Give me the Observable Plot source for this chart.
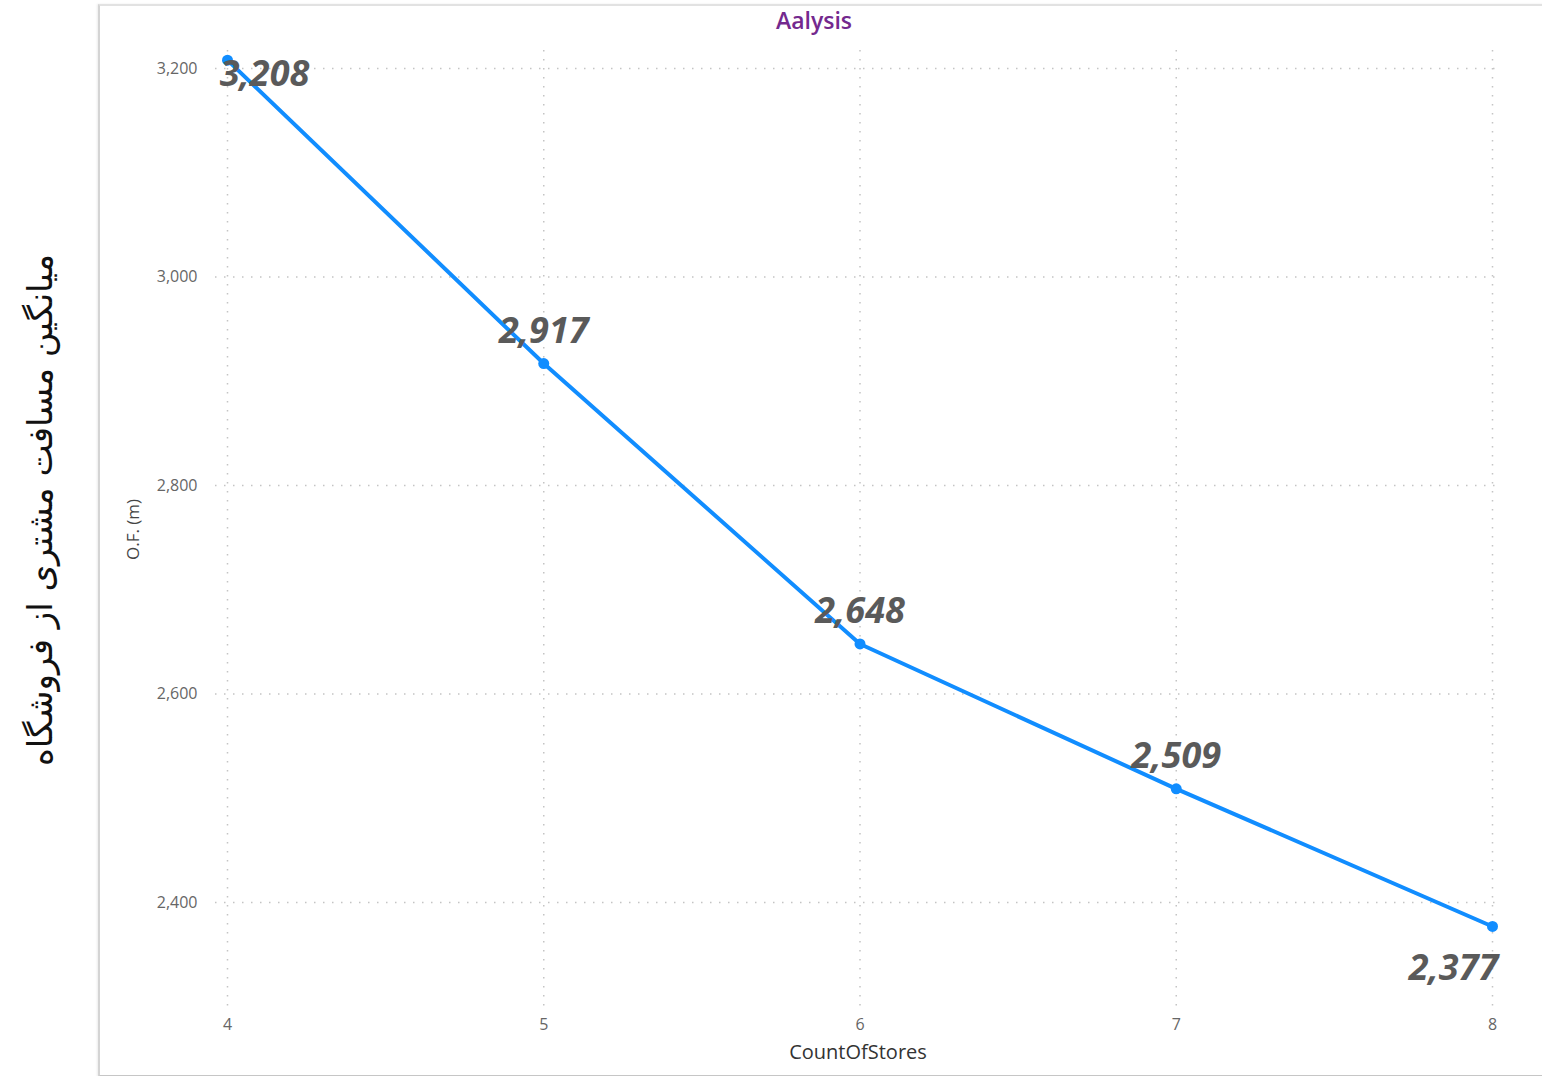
<!DOCTYPE html>
<html>
<head>
<meta charset="utf-8">
<script src="https://cdn.jsdelivr.net/npm/d3@7"></script>
<script src="https://cdn.jsdelivr.net/npm/@observablehq/plot@0.6"></script>
<style>
  html, body { margin: 0; padding: 0; background: #fff; }
  #wrap { position: relative; width: 1542px; height: 1076px; overflow: hidden; }
  #panel { position: absolute; left: 98px; top: 4px; width: 1460px; height: 1069px;
           border-left: 2px solid #d4d4d4; border-top: 2px solid #e2e2e2; border-bottom: 2px solid #c6c6c6;
           box-shadow: -1px 0 2px rgba(0,0,0,0.08); pointer-events: none; z-index: 2; }
  #persian { position: absolute; left: 40px; top: 510px; transform: translate(-50%, -50%) rotate(-90deg);
             white-space: nowrap; font-family: "DejaVu Sans", sans-serif; font-size: 34px; color: #111; direction: rtl; }
  #chart { position: absolute; left: 0; top: 0; }
</style>
</head>
<body>
<div id="wrap">
  <div id="chart"></div>
  <div id="panel"></div>
  <div id="persian">میانگین مسافت مشتری از فروشگاه</div>
</div>
<script>
const counts = [4, 5, 6, 7, 8];
const distances = [3208, 2917, 2648, 2509, 2377];
const xTicks = [4, 5, 6, 7, 8];
const yTicks = [2400, 2600, 2800, 3000, 3200];
const titleText = "Aalysis";
const xLabel = "CountOfStores";
const yLabel = "O.F. (m)";

const data = counts.map((c, i) => ({count: c, dist: distances[i]}));
const fmt = d3.format(",");
const n = data.length;

const labelStyle = {x: "count", y: "dist", text: d => fmt(d.dist), fontSize: 36, fontWeight: 700,
  fontStyle: "italic", fill: "#5a5a5a", fontFamily: "Open Sans"};

const chart = Plot.plot({
  width: 1542,
  height: 1076,
  marginLeft: 215,
  marginRight: 42,
  marginTop: 50,
  marginBottom: 68,
  style: {fontFamily: "Open Sans", background: "transparent"},
  x: {domain: [4, 8], range: [227, 1492]},
  y: {domain: [2400, 3200], range: [902, 68]},
  marks: [
    Plot.gridY(yTicks, {stroke: "#c4c4c4", strokeOpacity: 1, strokeWidth: 1.5, strokeDasharray: "1.5,7.5"}),
    Plot.gridX(xTicks, {stroke: "#c4c4c4", strokeOpacity: 1, strokeWidth: 1.5, strokeDasharray: "1.5,7.5"}),
    Plot.axisY(yTicks, {tickSize: 0, tickPadding: 18, tickFormat: fmt, fontSize: 16, fill: "#666", label: null}),
    Plot.axisX(xTicks, {tickSize: 0, tickPadding: 10, tickFormat: d3.format("d"), fontSize: 16, fill: "#666", label: null}),
    Plot.line(data, {x: "count", y: "dist", stroke: "#118DFF", strokeWidth: 4}),
    Plot.dot(data, {x: "count", y: "dist", r: 5.5, fill: "#118DFF"}),
    Plot.text(data.filter((d, i) => i > 0 && i < n - 1), {...labelStyle, dy: -32}),
    Plot.text(data.filter((d, i) => i === 0), {...labelStyle, dx: 37, dy: 14}),
    Plot.text(data.filter((d, i) => i === n - 1), {...labelStyle, dx: -39, dy: 42}),
    Plot.text([titleText], {frameAnchor: "top", lineAnchor: "middle", text: d => d, dy: -29, dx: -44, fontSize: 23, fontWeight: 600, fill: "#74298E"}),
    Plot.text([xLabel], {frameAnchor: "bottom", lineAnchor: "middle", text: d => d, dy: 44, fontSize: 20, fill: "#333"}),
    Plot.text([yLabel], {frameAnchor: "left", textAnchor: "middle", lineAnchor: "middle", text: d => d, rotate: -90, dx: -82, fontSize: 17, fill: "#444"})
  ]
});
document.getElementById("chart").appendChild(chart);
</script>
</body>
</html>
